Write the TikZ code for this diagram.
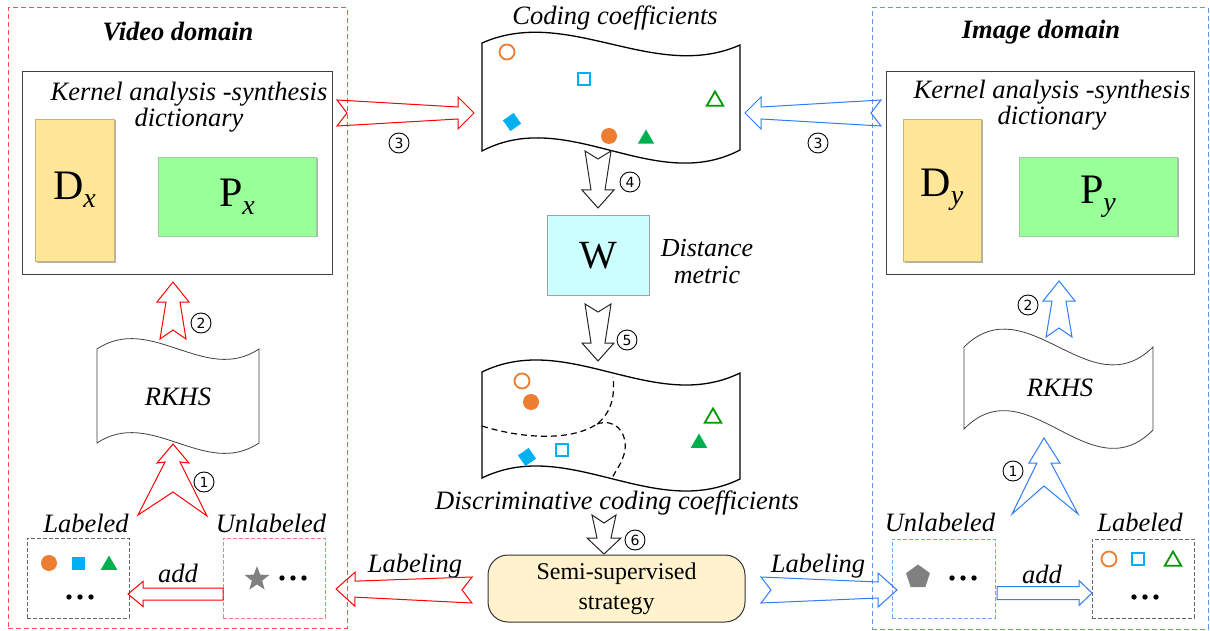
\documentclass[tikz,border=0pt]{standalone}
\usepackage{fontspec}
\setmainfont{Liberation Serif}
\newfontfamily\numfont{DejaVu Sans}
\usetikzlibrary{calc,shapes.geometric,shadows}
\definecolor{orangeC}{HTML}{ED7D31}
\definecolor{cyanC}{HTML}{00B0F0}
\definecolor{greenC}{HTML}{00B050}
\definecolor{greenO}{HTML}{009900}
\definecolor{domRed}{HTML}{FF5050}
\definecolor{domBlue}{HTML}{5F9CF0}
\definecolor{unlRed}{HTML}{FF7C80}
\definecolor{unlBlue}{HTML}{6FA8F5}
\definecolor{redA}{HTML}{FF0000}
\definecolor{blueA}{HTML}{2E7DF5}
\definecolor{dxFill}{HTML}{FFE699}
\definecolor{dxDraw}{HTML}{C8B27A}
\definecolor{pxFill}{HTML}{99FF99}
\definecolor{pxDraw}{HTML}{9CCB9C}
\definecolor{wFill}{HTML}{CCFFFF}
\definecolor{wDraw}{HTML}{A0A0A0}
\definecolor{semiFill}{HTML}{FFF2CC}
\newcommand\blockarrow[8]{%
  \coordinate (ba-n) at ($(#3)!#7!(#2)$);
  \draw[#1] ($(#2)!#8!(#3)$) -- ($(#2)!#4!90:(#3)$) -- ($(ba-n)!#5!-90:(#2)$)
    -- ($(ba-n)!#6!-90:(#2)$) -- (#3) -- ($(ba-n)!#6!90:(#2)$)
    -- ($(ba-n)!#5!90:(#2)$) -- ($(#2)!#4!-90:(#3)$) -- cycle;
}
\newcommand\threedots[1]{%
  \foreach \dd in {-11,0,11} \fill ($(#1)+(\dd,0)$) circle[radius=2.7pt];
}
\begin{document}
\begin{tikzpicture}[x=1pt,y=-1pt,
  box/.style={inner sep=0pt, outer sep=0pt, anchor=north west},
  dombox/.style={box, dash pattern=on 5pt off 3pt, line width=1pt},
  lab/.style={font=\fontsize{26.5}{26}\selectfont\itshape, inner sep=0pt},
  big/.style={font=\fontsize{42}{42}\selectfont},
  num/.style={circle, draw, line width=0.9pt, minimum size=20pt, inner sep=0pt,
    font=\numfont\fontsize{14}{14}\selectfont},
  sheet/.style={draw=black, line width=1.3pt},
  rkhs/.style={draw=black!75, line width=0.8pt},
  rarrow/.style={draw=redA, line width=1pt, line join=miter, miter limit=10},
  barrow/.style={draw=blueA, line width=1pt, line join=miter, miter limit=10},
  karrow/.style={draw=black!85, line width=1pt, line join=miter, miter limit=10},
  ocirc/.style={circle, draw=orangeC, line width=1.8pt, minimum size=15pt, inner sep=0pt},
  fcirc/.style={circle, fill=orangeC, minimum size=16pt, inner sep=0pt},
  osq/.style={rectangle, draw=cyanC, line width=1.8pt, minimum size=12pt, inner sep=0pt},
  fsq/.style={rectangle, fill=cyanC, minimum size=13pt, inner sep=0pt},
  otri/.style={regular polygon, regular polygon sides=3, draw=greenO, line width=1.8pt, minimum size=19pt, inner sep=0pt},
  ftri/.style={regular polygon, regular polygon sides=3, fill=greenC, minimum size=19pt, inner sep=0pt},
  setbox/.style={box, dash pattern=on 4pt off 2pt, line width=0.9pt, minimum width=102pt, minimum height=80pt},
  shade/.style={drop shadow={shadow xshift=1.5pt, shadow yshift=-1.5pt, fill=black, opacity=0.3}}
]
\useasboundingbox (0,0) rectangle (1210,631);
\fill[white] (0,0) rectangle (1210,631);

% domain frames
\node[dombox, draw=domRed, minimum width=339pt, minimum height=620pt] (vdom) at (8,8) {};
\node[dombox, draw=domBlue, minimum width=336pt, minimum height=621pt] (idom) at (872,8) {};
\node[lab, font=\fontsize{26.5}{26}\selectfont\bfseries\itshape] (vtitle) at (178,32) {Video domain};
\node[lab, font=\fontsize{26.5}{26}\selectfont\bfseries\itshape] (ititle) at (1041,32) {Image domain};

% kernel dictionaries
\node[box, draw=black!75, line width=1pt, minimum width=310pt, minimum height=202pt] (kx) at (22,72) {};
\node[box, draw=black!75, line width=1pt, minimum width=308pt, minimum height=202pt] (ky) at (886,72) {};
\node[lab, align=center] (kxt) at (189,107) {Kernel analysis -synthesis\\dictionary};
\node[lab, align=center] (kyt) at (1052,105) {Kernel analysis -synthesis\\dictionary};
\node[box, shade, fill=dxFill, draw=dxDraw, line width=0.6pt, minimum width=79pt, minimum height=142pt, big] (dx) at (35,119) {D\raisebox{-8pt}{\fontsize{28}{28}\selectfont\itshape x}};
\node[box, shade, fill=pxFill, draw=pxDraw, line width=0.6pt, minimum width=158pt, minimum height=79pt, big] (px) at (158,157) {P\raisebox{-8pt}{\fontsize{28}{28}\selectfont\itshape x}};
\node[box, shade, fill=dxFill, draw=dxDraw, line width=0.6pt, minimum width=78pt, minimum height=142pt, big] (dy) at (903,119) {D\raisebox{-8pt}{\fontsize{28}{28}\selectfont\itshape y}};
\node[box, shade, fill=pxFill, draw=pxDraw, line width=0.6pt, minimum width=158pt, minimum height=79pt, big] (py) at (1019,157) {P\raisebox{-8pt}{\fontsize{28}{28}\selectfont\itshape y}};

% coding coefficients sheet
\node[lab] (cct) at (615,18) {Coding coefficients};
\draw[sheet] (482,43) .. controls (568,5) and (654,83) .. (740,45) -- (740,150)
  .. controls (654,195) and (568,106) .. (482,151) -- cycle;
\node[ocirc] (c1) at (507,52) {};
\node[osq] (c2) at (584,79) {};
\node[otri] (c3) at (715,101) {};
\node[fsq, rotate=35] (c4) at (512,122) {};
\node[fcirc] (c5) at (609,136) {};
\node[ftri] (c6) at (646,139) {};

% distance metric
\node[box, fill=wFill, draw=wDraw, line width=1pt, minimum width=102pt, minimum height=79pt, font=\fontsize{40}{40}\selectfont] (W) at (547,216) {W};
\node[lab, align=center, font=\fontsize{26}{27}\selectfont\itshape] (wt) at (707,262) {Distance\\metric};

% discriminative sheet
\draw[sheet] (482,372) .. controls (568,330) and (654,415) .. (740,373) -- (740,479)
  .. controls (654,521) and (568,436) .. (482,478) -- cycle;
\draw[line width=1.2pt, dash pattern=on 6pt off 4pt] (482,426) .. controls (520,438) and (570,442) .. (597,424)
  .. controls (612,412) and (615,395) .. (613,377);
\draw[line width=1.2pt, dash pattern=on 6pt off 4pt] (597,424) .. controls (615,418) and (627,432) .. (625,450)
  .. controls (623,462) and (615,472) .. (612,478);
\node[ocirc] (d1) at (522,381) {};
\node[fcirc] (d2) at (531,402) {};
\node[otri] (d3) at (713,418) {};
\node[ftri] (d4) at (699,443) {};
\node[fsq, rotate=35] (d5) at (527,457) {};
\node[osq] (d6) at (562,450) {};
\node[lab] (dct) at (617,503) {Discriminative coding coefficients};

% semi-supervised strategy
\node[box, fill=semiFill, draw=black!80, line width=1pt, rounded corners=20pt, minimum width=257pt, minimum height=67pt, align=center, font=\fontsize{24}{30}\selectfont] (semi) at (488,555) {Semi-supervised\\strategy};

% RKHS sheets
\draw[rkhs] (97,349) .. controls (151,313) and (205,385) .. (259,349) -- (259,443)
  .. controls (205,479) and (151,407) .. (97,443) -- cycle;
\node[lab] (rkl) at (178,397) {RKHS};
\draw[rkhs] (964,347) .. controls (1027,285) and (1090,409) .. (1153,347) -- (1153,430)
  .. controls (1090,494) and (1027,365) .. (964,429) -- cycle;
\node[lab] (rkr) at (1060,388) {RKHS};

% sample sets
\node[lab] (labLt) at (86,523) {Labeled};
\node[lab] (unlLt) at (271,523) {Unlabeled};
\node[lab] (unlRt) at (940,522) {Unlabeled};
\node[lab] (labRt) at (1140,522) {Labeled};
\node[setbox, draw=black!60] (labL) at (27,538) {};
\node[setbox, draw=unlRed] (unlL) at (223,538) {};
\node[setbox, draw=unlBlue, minimum width=103pt, minimum height=79pt] (unlR) at (892,539) {};
\node[setbox, draw=black!60, minimum height=79pt] (labR) at (1092,539) {};
\node[fcirc] (s1) at (49,563) {};
\node[fsq] (s2) at (78,563) {};
\node[ftri] (s3) at (109,565) {};
\coordinate (dots1) at (80,597);
\threedots{dots1}
\node[star, star points=5, star point ratio=2.4, fill=gray, minimum size=26pt, inner sep=0pt] (star) at (257,579) {};
\coordinate (dots2) at (293,578);
\threedots{dots2}
\node[regular polygon, regular polygon sides=5, fill=gray, minimum size=25pt, inner sep=0pt] (pent) at (918,577) {};
\coordinate (dots3) at (963,578);
\threedots{dots3}
\node[ocirc] (t1) at (1109,559) {};
\node[osq] (t2) at (1138,559) {};
\node[otri] (t3) at (1173,561) {};
\coordinate (dots4) at (1145,597);
\threedots{dots4}
\node[lab] (addL) at (178,573) {add};
\node[lab] (addR) at (1042,574) {add};
\node[lab] (lbL) at (415,566) {Labeling};
\node[lab] (lbR) at (818,566) {Labeling};

% block arrows
\coordinate (a3L) at (337,113); \coordinate (b3L) at (474,113);
\blockarrow{rarrow}{a3L}{b3L}{13pt}{6pt}{16pt}{16pt}{10pt}
\coordinate (a3R) at (881,113); \coordinate (b3R) at (745,113);
\blockarrow{barrow}{a3R}{b3R}{13pt}{6pt}{16pt}{16pt}{10pt}
\coordinate (a4) at (598,151); \coordinate (b4) at (598,208);
\blockarrow{karrow}{a4}{b4}{13pt}{7pt}{16pt}{18pt}{8pt}
\coordinate (a5) at (598,304); \coordinate (b5) at (598,361);
\blockarrow{karrow}{a5}{b5}{13pt}{7pt}{16pt}{18pt}{8pt}
\coordinate (a6) at (604,515); \coordinate (b6) at (604,554);
\blockarrow{karrow}{a6}{b6}{12pt}{7pt}{17pt}{16pt}{8pt}
\coordinate (aLL) at (472,590); \coordinate (bLL) at (336,589);
\blockarrow{rarrow}{aLL}{bLL}{13pt}{8pt}{17pt}{19pt}{10pt}
\coordinate (aLR) at (761,590); \coordinate (bLR) at (897,590);
\blockarrow{barrow}{aLR}{bLR}{13pt}{8pt}{17pt}{19pt}{10pt}
\coordinate (a2L) at (173,339); \coordinate (b2L) at (173,282);
\blockarrow{rarrow}{a2L}{b2L}{13pt}{7pt}{16pt}{20pt}{9pt}
\coordinate (a2R) at (1059,337); \coordinate (b2R) at (1059,281);
\blockarrow{barrow}{a2R}{b2R}{13pt}{7pt}{16pt}{20pt}{9pt}
\coordinate (aaL) at (223,594); \coordinate (baL) at (128,594);
\blockarrow{rarrow}{aaL}{baL}{6pt}{6pt}{12.5pt}{15pt}{0pt}
\coordinate (aaR) at (997,593); \coordinate (baR) at (1092,593);
\blockarrow{barrow}{aaR}{baR}{6.5pt}{6.5pt}{12.5pt}{13pt}{0pt}
% fork arrows (1)
\draw[rarrow] (138,515) -- (165,462) -- (157,463) -- (173,444) -- (189,463) -- (180,462)
  -- (207,516) -- (173,492) -- cycle;
\draw[barrow] (1012,514) -- (1037,463) -- (1029,463) -- (1044,438) -- (1060,463) -- (1051,463)
  -- (1078,514) -- (1044,486) -- cycle;

% step numbers
\node[num] (n3L) at (399,143) {3};
\node[num] (n3R) at (818,143) {3};
\node[num] (n4) at (630,182) {4};
\node[num] (n5) at (627,340) {5};
\node[num] (n6) at (635,540) {6};
\node[num] (n2L) at (201,323) {2};
\node[num] (n1L) at (204,482) {1};
\node[num] (n2R) at (1028,305) {2};
\node[num] (n1R) at (1013,471) {1};
\end{tikzpicture}
\end{document}
